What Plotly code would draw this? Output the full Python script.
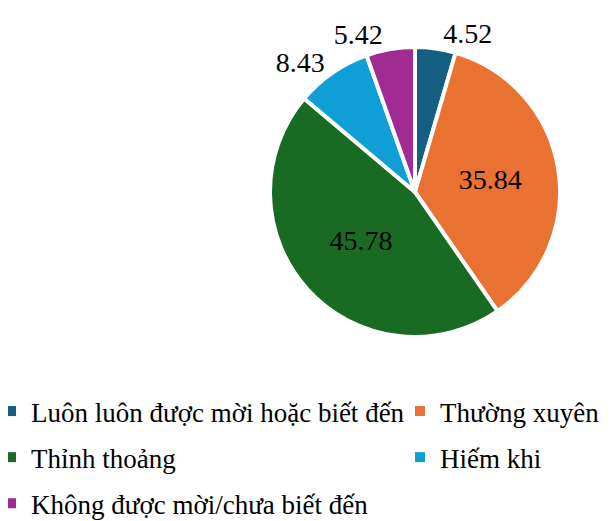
import plotly.graph_objects as go

labels = ["Luôn luôn được mời hoặc biết đến", "Thường xuyên", "Thỉnh thoảng",
          "Hiếm khi", "Không được mời/chưa biết đến"]
values = [4.52, 35.84, 45.78, 8.43, 5.42]
colors = ["#156082", "#E97132", "#196B24", "#0F9ED5", "#A02B93"]
# label placement per slice (main pie / helper pie used to avoid label collision)
text_pos_main = ["outside", "inside", "inside", "outside", "none"]
text_pos_aux = ["none", "none", "none", "none", "outside"]
legend_col = ["legend", "legend2", "legend", "legend2", "legend"]

FONT = "Liberation Serif"
W, H = 612, 521
cx, cy, r = 407, 184, 145
dom = dict(x=[(cx - r) / W, (cx + r) / W], y=[(H - cy - r) / H, (H - cy + r) / H])
tf = dict(family=FONT, size=28, color="black")
lf = dict(family=FONT, size=27, color="black")

fig = go.Figure()
fig.add_trace(go.Pie(
    labels=labels, values=values, sort=False, direction="clockwise", rotation=0,
    marker=dict(colors=colors, line=dict(color="white", width=4)),
    textinfo="value", textposition=text_pos_main, insidetextorientation="horizontal",
    textfont=tf, insidetextfont=tf, outsidetextfont=tf,
    domain=dom, showlegend=False,
))
fig.add_trace(go.Pie(
    labels=labels, values=values, sort=False, direction="clockwise", rotation=0,
    marker=dict(colors=["rgba(0,0,0,0)"] * len(values), line=dict(width=0)),
    textinfo="value", textposition=text_pos_aux,
    textfont=tf, outsidetextfont=tf, hoverinfo="skip",
    domain=dom, showlegend=False,
))
for i, (lab, col) in enumerate(zip(labels, colors)):
    fig.add_trace(go.Scatter(
        x=[None], y=[None], mode="markers", name=lab,
        marker=dict(symbol="square", size=10, color=col),
        legend=legend_col[i], legendgroup=f"g{i}", showlegend=True,
    ))

leg_common = dict(orientation="v", xanchor="left", yanchor="top", tracegroupgap=8,
                  font=lf, bgcolor="rgba(0,0,0,0)", itemwidth=30)
fig.update_layout(
    width=W, height=H, margin=dict(l=0, r=0, t=0, b=0, autoexpand=False),
    paper_bgcolor="white", plot_bgcolor="white",
    xaxis=dict(visible=False), yaxis=dict(visible=False),
    legend=dict(x=-17 / W, y=(H - 379) / H, **leg_common),
    legend2=dict(x=392 / W, y=(H - 379) / H, **leg_common),
)
fig.write_html("out.html")
